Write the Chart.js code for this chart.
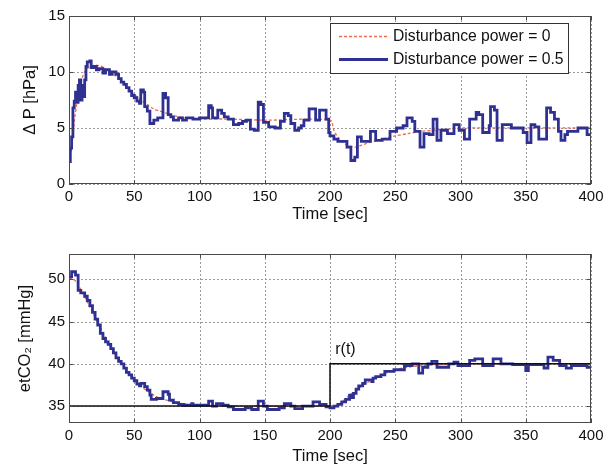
<!DOCTYPE html>
<html>
<head>
<meta charset="utf-8">
<script src="https://cdn.jsdelivr.net/npm/chart.js@4.4.0/dist/chart.umd.min.js"></script>
<style>
  body { margin: 0; background: #fff; }
  canvas { position: absolute; left: 0; }
  #topChart { top: 0; }
  #botChart { top: 233px; }
</style>
</head>
<body>
<canvas id="topChart" width="613" height="233"></canvas>
<canvas id="botChart" width="613" height="233"></canvas>
<script>
// tick labels
const xTicks = [0, 50, 100, 150, 200, 250, 300, 350, 400];
const topYTicks = [0, 5, 10, 15];
const botYTicks = [35, 40, 45, 50];

// top plot: pressure difference (each value holds from its time to the next one)
const topBlueT = [0, 1, 2, 3, 4, 5, 6, 7, 8, 9, 10, 11, 12, 13, 14, 16, 17, 19, 21, 23, 26, 28, 31, 33, 36, 38, 40, 42, 44, 46, 48, 50, 52, 54, 55, 57, 58, 60, 62, 65, 68, 72, 74, 76, 78, 80, 84, 87, 90, 95,
  100, 107, 109, 110, 114, 117, 119, 122, 126, 130, 133, 136, 139, 142, 145, 147, 149, 153, 158, 162, 165, 168, 170, 173, 176, 178, 180, 184, 189, 192, 197, 199,
  200, 203, 206, 213, 216, 219, 221, 224, 231, 235, 240, 246, 251, 256, 259, 263, 265, 269, 272, 276, 279, 282, 285, 290, 295, 299,
  303, 307, 312, 314, 317, 322, 323, 326, 328, 332, 339, 348, 351, 354, 357, 360, 366, 369, 372, 375, 377, 380, 382, 390, 397, 400];
const topBlueY = [2.0, 3.2, 4.2, 6.8, 7.4, 8.2, 7.3, 8.8, 9.3, 7.5, 8.8, 7.8, 9.3, 10.5, 10.9, 11.0, 10.4, 10.5, 10.2, 10.3, 9.9, 10.2, 9.8, 10.0, 9.8, 9.4, 9.1, 8.9, 8.6, 8.3, 7.9, 7.7, 7.4, 7.2, 8.4, 8.2, 6.9, 6.5, 5.4, 5.7, 5.9, 8.1, 7.7, 6.2, 6.0, 5.7, 5.9, 5.7, 5.9, 5.8,
  5.9, 7.0, 6.8, 5.9, 6.6, 6.3, 6.0, 5.8, 5.3, 5.4, 5.6, 5.7, 4.9, 4.8, 7.3, 7.1, 5.5, 5.1, 5.0, 5.6, 6.3, 6.1, 5.4, 4.8, 5.0, 5.2, 5.7, 6.7, 5.7, 6.6, 5.8, 4.6,
  4.3, 4.0, 3.8, 3.3, 2.1, 2.4, 4.2, 3.8, 4.7, 3.9, 4.0, 4.7, 5.0, 5.2, 5.9, 5.6, 4.7, 3.3, 4.5, 4.4, 5.8, 3.9, 4.8, 4.5, 5.3, 4.8,
  4.0, 5.8, 6.4, 6.2, 4.6, 5.2, 6.9, 6.6, 3.9, 5.3, 5.0, 4.6, 3.7, 5.3, 5.1, 4.0, 6.8, 6.4, 5.8, 4.7, 3.9, 4.4, 4.7, 5.0, 4.4, 4.4];
const topRedT = [0, 2, 4, 6, 8, 10, 12, 15, 20, 25, 30, 35, 40, 45, 50, 55, 60, 65, 70, 75, 80, 90, 100, 120, 150, 200, 203, 206, 210, 215, 220, 225, 230, 240, 250, 260, 270, 280, 290, 300, 400];
const topRedY = [2.0, 3.2, 5.5, 7.2, 8.5, 9.4, 10.0, 10.4, 10.6, 10.5, 10.1, 9.7, 9.2, 8.6, 8.0, 7.5, 7.1, 6.7, 6.5, 6.3, 6.1, 5.9, 5.8, 5.8, 5.7, 5.7, 4.8, 4.2, 3.7, 3.4, 3.3, 3.5, 3.7, 4.0, 4.3, 4.5, 4.7, 4.8, 4.9, 5.0, 5.0];

// bottom plot: etCO2
const botBlueT = [0, 2, 5, 7, 9, 12, 14, 16, 18, 20, 22, 24, 26, 28, 30, 32, 34, 36, 38, 40, 42, 44, 46, 48, 50, 52, 54, 55, 58, 60, 62, 63, 67, 72, 76, 77, 80, 84, 88, 94, 95,
  107, 110, 113, 118, 122, 126, 135, 140, 145, 149, 152, 161, 165, 170, 173, 179, 187, 192, 197,
  200, 203, 206, 209, 212, 215, 216, 218, 220, 222, 225, 227, 232, 233, 235, 239, 242, 249, 257, 263, 268, 271, 275, 278, 282, 291, 295, 298,
  307, 311, 317, 325, 331, 340, 350, 352, 364, 367, 371, 376, 381, 385, 397, 400];
const botBlueY = [50.3, 50.9, 50.5, 48.7, 48.4, 48.0, 47.5, 46.9, 46.1, 45.3, 44.6, 43.6, 43.0, 42.6, 42.3, 41.8, 41.3, 40.7, 40.3, 40.0, 39.5, 39.0, 38.7, 38.3, 38.0, 37.6, 37.4, 37.7, 37.3, 36.9, 36.3, 35.8, 35.9, 36.7, 36.4, 35.7, 35.4, 35.2, 35.1, 35.3, 35.1,
  35.6, 35.0, 35.3, 35.1, 34.9, 34.6, 34.8, 34.6, 35.6, 35.0, 34.6, 34.8, 35.3, 35.0, 34.7, 35.0, 35.5, 35.2, 34.9,
  34.8, 35.0, 35.2, 35.5, 35.8, 36.3, 36.0, 36.5, 37.0, 37.4, 37.7, 38.1, 37.9, 38.3, 38.5, 38.7, 39.1, 39.3, 39.8, 40.0, 38.9, 39.6, 40.0, 40.3, 39.6, 40.0, 40.2, 39.8,
  40.4, 40.6, 39.8, 40.6, 40.0, 39.9, 39.2, 39.9, 39.5, 40.8, 40.4, 39.8, 39.5, 39.8, 39.6, 39.6];
const botRedT = [0, 5, 10, 15, 20, 25, 30, 35, 40, 45, 50, 55, 60, 65, 70, 80, 90, 100, 120, 200, 205, 210, 215, 220, 230, 240, 250, 260, 270, 280, 300, 400];
const botRedY = [50.2, 49.8, 48.5, 47.0, 45.5, 44.0, 42.5, 41.2, 40.0, 39.0, 38.2, 37.4, 36.8, 36.3, 35.9, 35.5, 35.2, 35.1, 35.0, 35.0, 35.1, 35.6, 36.3, 36.9, 37.9, 38.7, 39.3, 39.6, 39.8, 39.9, 40.0, 40.0];
const refT = [0, 200, 200, 400];
const refY = [35, 35, 40, 40];
const refLabel = 'r(t)';
const refLabelT = 204;
const refLabelY = 41.7;

const legendLabels = ['Disturbance power = 0', 'Disturbance power = 0.5'];

const blue = '#2e3192';
const red = '#f26b4f';
const font = 'Liberation Sans, Arial, Helvetica, sans-serif';

// step data: value i holds until time i+1
function steps(ts, ys) {
  const out = [];
  ts.forEach((t, i) => {
    if (i > 0) out.push({ x: t, y: ys[i - 1] });
    out.push({ x: t, y: ys[i] });
  });
  return out;
}
const pts = (ts, ys) => ts.map((t, i) => ({ x: t, y: ys[i] }));

// matlab style dotted grid, box and inner tick marks
const boxPlugin = {
  id: 'box',
  beforeDatasetsDraw(chart) {
    const { ctx, chartArea: a, scales } = chart;
    ctx.save();
    ctx.strokeStyle = '#9a9a9a';
    ctx.lineWidth = 1;
    ctx.setLineDash([2, 2]);
    ctx.beginPath();
    scales.x.ticks.forEach(t => {
      const px = Math.round(scales.x.getPixelForValue(t.value)) + 0.5;
      ctx.moveTo(px, a.top); ctx.lineTo(px, a.bottom);
    });
    scales.y.ticks.forEach(t => {
      const py = Math.round(scales.y.getPixelForValue(t.value)) + 0.5;
      ctx.moveTo(a.left, py); ctx.lineTo(a.right, py);
    });
    ctx.stroke();
    ctx.restore();
  },
  afterDraw(chart) {
    const { ctx, chartArea: a, scales } = chart;
    ctx.save();
    ctx.strokeStyle = '#4a4a4a';
    ctx.lineWidth = 1;
    ctx.setLineDash([]);
    ctx.strokeRect(a.left + 0.5, a.top + 0.5, a.right - a.left - 1, a.bottom - a.top - 1);
    ctx.beginPath();
    scales.x.ticks.forEach(t => {
      const px = Math.round(scales.x.getPixelForValue(t.value)) + 0.5;
      ctx.moveTo(px, a.bottom); ctx.lineTo(px, a.bottom - 4);
      ctx.moveTo(px, a.top); ctx.lineTo(px, a.top + 4);
    });
    scales.y.ticks.forEach(t => {
      const py = Math.round(scales.y.getPixelForValue(t.value)) + 0.5;
      ctx.moveTo(a.left, py); ctx.lineTo(a.left + 4, py);
      ctx.moveTo(a.right, py); ctx.lineTo(a.right - 4, py);
    });
    ctx.stroke();
    ctx.restore();
  }
};

const legendPlugin = {
  id: 'innerLegend',
  afterDraw(chart) {
    const ctx = chart.ctx;
    ctx.save();
    ctx.fillStyle = '#fff';
    ctx.fillRect(330, 23, 238, 50);
    ctx.strokeStyle = '#333';
    ctx.lineWidth = 1;
    ctx.strokeRect(330.5, 23.5, 238, 50);
    ctx.beginPath();
    ctx.strokeStyle = red;
    ctx.lineWidth = 1.3;
    ctx.setLineDash([3, 2]);
    ctx.moveTo(339, 36.5); ctx.lineTo(388, 36.5);
    ctx.stroke();
    ctx.beginPath();
    ctx.setLineDash([]);
    ctx.strokeStyle = blue;
    ctx.lineWidth = 2.8;
    ctx.moveTo(339, 59.5); ctx.lineTo(388, 59.5);
    ctx.stroke();
    ctx.fillStyle = '#111';
    ctx.font = '15.7px ' + font;
    ctx.textBaseline = 'middle';
    ctx.fillText(legendLabels[0], 393, 37);
    ctx.fillText(legendLabels[1], 393, 60);
    ctx.restore();
  }
};

const refLabelPlugin = {
  id: 'refLabel',
  afterDraw(chart) {
    const { ctx, scales } = chart;
    ctx.save();
    ctx.fillStyle = '#111';
    ctx.font = '16px ' + font;
    ctx.textBaseline = 'middle';
    ctx.fillText(refLabel, scales.x.getPixelForValue(refLabelT), scales.y.getPixelForValue(refLabelY));
    ctx.restore();
  }
};

function makeOptions(yMin, yMax, yTicks, yTitle, yTitlePad, xHeight, xTitlePad, padTop) {
  return {
    responsive: false,
    animation: false,
    layout: { padding: { left: 0, right: 22, top: padTop, bottom: 0 } },
    plugins: { legend: { display: false }, tooltip: { enabled: false } },
    elements: { point: { radius: 0 }, line: { borderJoinStyle: 'miter' } },
    scales: {
      x: {
        type: 'linear', min: 0, max: 400,
        afterBuildTicks: s => { s.ticks = xTicks.map(v => ({ value: v })); },
        afterFit: s => { s.height = xHeight; },
        ticks: { color: '#111', font: { family: font, size: 15 }, padding: 4, maxRotation: 0 },
        grid: { display: false, drawTicks: false },
        border: { display: false },
        title: { display: true, text: 'Time [sec]', color: '#111', font: { family: font, size: 16.5 }, padding: { top: 0, bottom: xTitlePad } }
      },
      y: {
        type: 'linear', min: yMin, max: yMax,
        afterBuildTicks: s => { s.ticks = yTicks.map(v => ({ value: v })); },
        afterFit: s => { s.width = 69; },
        ticks: { color: '#111', font: { family: font, size: 15 }, padding: 4 },
        grid: { display: false, drawTicks: false },
        border: { display: false },
        title: { display: true, text: yTitle, color: '#111', font: { family: font, size: 16.5 }, padding: { top: yTitlePad, bottom: 0 } }
      }
    }
  };
}

new Chart(document.getElementById('topChart'), {
  type: 'line',
  data: {
    datasets: [
      { data: steps(topBlueT, topBlueY), borderColor: blue, borderWidth: 2.8, order: 1 },
      { data: pts(topRedT, topRedY), borderColor: red, borderWidth: 1.3, borderDash: [3, 2], tension: 0.3, order: 2 }
    ]
  },
  options: makeOptions(0, 15, topYTicks, 'Δ P [hPa]', 21, 49, 9, 16),
  plugins: [boxPlugin, legendPlugin]
});

new Chart(document.getElementById('botChart'), {
  type: 'line',
  data: {
    datasets: [
      { data: pts(refT, refY), borderColor: '#111', borderWidth: 1.5, order: 0 },
      { data: steps(botBlueT, botBlueY), borderColor: blue, borderWidth: 2.8, order: 1 },
      { data: pts(botRedT, botRedY), borderColor: red, borderWidth: 1.3, borderDash: [3, 2], tension: 0.3, order: 2 }
    ]
  },
  options: makeOptions(33, 53, botYTicks, 'etCO₂ [mmHg]', 16, 43, 0, 21),
  plugins: [boxPlugin, refLabelPlugin]
});
</script>
</body>
</html>
